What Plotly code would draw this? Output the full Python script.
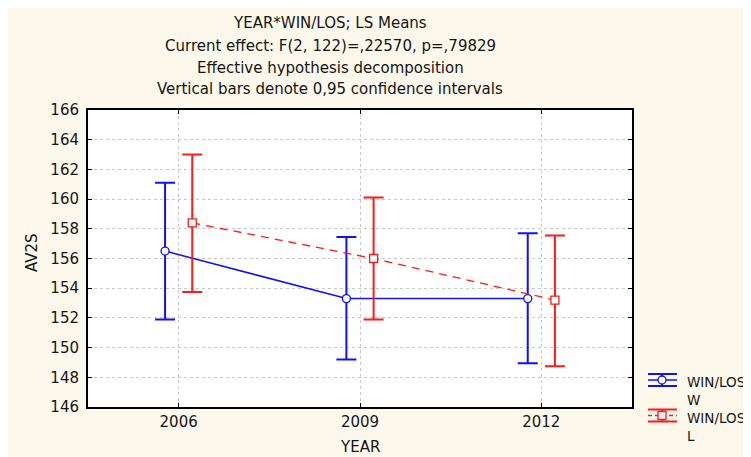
import plotly.graph_objects as go

years = ["2006", "2009", "2012"]
w_mean = [156.5, 153.3, 153.3]
w_upper = [161.1, 157.45, 157.7]
w_lower = [151.9, 149.2, 148.95]
l_mean = [158.4, 156.0, 153.2]
l_upper = [163.0, 160.1, 157.55]
l_lower = [153.75, 151.9, 148.75]

series_names = ["WIN/LOS<br>W", "WIN/LOS<br>L"]
series_colors = ["#1010ff", "#ff1a1a"]

title_lines = [
    "YEAR*WIN/LOS; LS Means",
    "Current effect: F(2, 122)=,22570, p=,79829",
    "Effective hypothesis decomposition",
    "Vertical bars denote 0,95 confidence intervals",
]

FONT = "DejaVu Sans, Verdana, sans-serif"
FS = 15
TXT = "#151515"
W, H = 751, 457
BODY = 8  # default page body margin
# plot area in page pixels
L, R, T, B = 88, 632, 110, 407

def px_x(p):
    return (p - L) / (R - L)

def px_y(p):
    return (B - p) / (B - T)

off = 0.075
xi = list(range(len(years)))

fig = go.Figure()
fig.add_trace(go.Scatter(
    x=[i - off for i in xi], y=w_mean, name=series_names[0], showlegend=False,
    mode="lines+markers",
    line=dict(color=series_colors[0], width=1.5),
    marker=dict(symbol="circle", size=8, color="white", line=dict(color=series_colors[0], width=1.3)),
    error_y=dict(type="data", symmetric=False,
                 array=[u - m for u, m in zip(w_upper, w_mean)],
                 arrayminus=[m - lo for m, lo in zip(w_mean, w_lower)],
                 color=series_colors[0], thickness=2, width=10),
))
fig.add_trace(go.Scatter(
    x=[i + off for i in xi], y=l_mean, name=series_names[1], showlegend=False,
    mode="lines+markers",
    line=dict(color=series_colors[1], width=1.3, dash="8px,6px"),
    marker=dict(symbol="square", size=8, color="white", line=dict(color=series_colors[1], width=1.3)),
    error_y=dict(type="data", symmetric=False,
                 array=[u - m for u, m in zip(l_upper, l_mean)],
                 arrayminus=[m - lo for m, lo in zip(l_mean, l_lower)],
                 color=series_colors[1], thickness=2, width=10),
))

annotations = []
for txt, py in zip(title_lines, [23, 46, 68, 89]):
    annotations.append(dict(text=txt, xref="paper", yref="paper",
                            x=px_x(330), y=px_y(py), xanchor="center", yanchor="middle",
                            showarrow=False, font=dict(family=FONT, size=FS, color=TXT)))
annotations.append(dict(text="YEAR", xref="paper", yref="paper",
                        x=px_x(360), y=px_y(447), xanchor="center", yanchor="middle",
                        showarrow=False, font=dict(family=FONT, size=FS, color=TXT)))
annotations.append(dict(text="AV2S", xref="paper", yref="paper", textangle=-90,
                        x=px_x(32), y=px_y(253), xanchor="center", yanchor="middle",
                        showarrow=False, font=dict(family=FONT, size=FS, color=TXT)))

# manual legend (error-bar style glyphs)
shapes = []
for k, (name, col) in enumerate(zip(series_names, series_colors)):
    cy = 380 + 35.5 * k
    x0, x1, xc = 648, 677, 662
    dash = "solid" if k == 0 else "4px,3px"
    for dy in (-6, 6):
        shapes.append(dict(type="line", xref="paper", yref="paper",
                           x0=px_x(x0), x1=px_x(x1), y0=px_y(cy + dy), y1=px_y(cy + dy),
                           line=dict(color=col, width=2)))
    shapes.append(dict(type="line", xref="paper", yref="paper",
                       x0=px_x(x0), x1=px_x(x1), y0=px_y(cy), y1=px_y(cy),
                       line=dict(color=col, width=1.5, dash=dash)))
    shapes.append(dict(type="line", xref="paper", yref="paper",
                       x0=px_x(xc), x1=px_x(xc), y0=px_y(cy - 6), y1=px_y(cy + 6),
                       line=dict(color=col, width=2)))
    shapes.append(dict(type="circle" if k == 0 else "rect", xref="paper", yref="paper",
                       x0=px_x(xc - 4), x1=px_x(xc + 4), y0=px_y(cy + 4), y1=px_y(cy - 4),
                       fillcolor="white", line=dict(color=col, width=1.3)))
    annotations.append(dict(text=name, xref="paper", yref="paper", align="left",
                            x=px_x(685), y=px_y(cy - 8), xanchor="left", yanchor="top",
                            showarrow=False,
                            font=dict(family=FONT, size=13.5, color=TXT)))

axis_common = dict(showline=True, linecolor="black", linewidth=2, mirror="ticks",
                   ticks="inside", ticklen=4, tickcolor="black",
                   showgrid=True, gridcolor="#c8c8c8", griddash="dot", gridwidth=1,
                   zeroline=False, tickfont=dict(family=FONT, size=FS, color=TXT))

fig.update_layout(
    width=W, height=H, autosize=False,
    margin=dict(l=L - BODY, r=W - R + BODY, t=T - BODY, b=H - B + BODY),
    paper_bgcolor="#fdf8ec", plot_bgcolor="white",
    font=dict(family=FONT, size=FS, color=TXT),
    annotations=annotations, shapes=shapes,
    showlegend=False,
    xaxis=dict(range=[-0.5, 2.5], tickvals=xi, ticktext=years, **axis_common),
    yaxis=dict(range=[146, 166], dtick=2, tick0=146, ticklabelstandoff=4, **axis_common),
)

fig.write_html("out.html")
